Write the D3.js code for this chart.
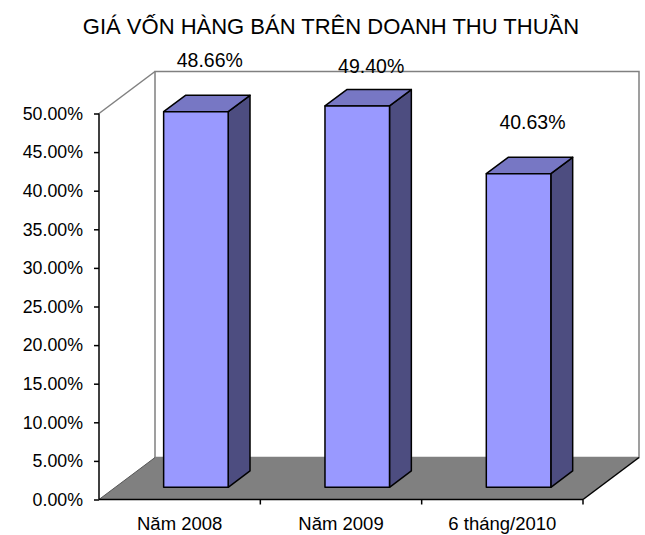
<!DOCTYPE html>
<html>
<head>
<meta charset="utf-8">
<script src="https://cdn.jsdelivr.net/npm/d3@7"></script>
<style>
  body { margin: 0; background: #fff; overflow: hidden; }
  svg text { font-family: "Liberation Sans", Arial, sans-serif; fill: #000; }
</style>
</head>
<body>
<div id="chart"></div>
<script>
// chart data
var categories = ["Năm 2008", "Năm 2009", "6 tháng/2010"];
var values = [0.4866, 0.4940, 0.4063];
var yTicks = [0, 0.05, 0.10, 0.15, 0.20, 0.25, 0.30, 0.35, 0.40, 0.45, 0.50];
var title = "GIÁ VỐN HÀNG BÁN TRÊN DOANH THU THUẦN";

var svgWidth = 645;
var svgHeight = 535;

// front plane of the 3D box
var plot = { left: 99, right: 583, top: 113.5, bottom: 499.5 };
// depth offset of the back wall
var DX = 56, DY = 42;
// bar depth (fraction of full depth)
var barFront = 0.29, barBack = 0.68;

var svg = d3.select("#chart")
  .append("svg")
  .attr("width", svgWidth)
  .attr("height", svgHeight)
  .style("display", "block");

var xBand = d3.scaleBand()
  .domain(categories)
  .range([plot.left, plot.right])
  .padding(0);

var yScale = d3.scaleLinear()
  .domain([0, 0.5])
  .range([plot.bottom, plot.top]);

function proj(x, y, f) {
  return [x + f * DX, y - f * DY];
}
function poly(pts) {
  return pts.map(p => p.join(",")).join(" ");
}

// back wall
svg.append("polygon")
  .attr("points", poly([
    proj(plot.left, plot.top, 1), proj(plot.right, plot.top, 1),
    proj(plot.right, plot.bottom, 1), proj(plot.left, plot.bottom, 1)
  ]))
  .attr("fill", "#fff")
  .attr("stroke", "#808080")
  .attr("stroke-width", 1.5);

// side wall top edge
svg.append("line")
  .attr("x1", plot.left).attr("y1", plot.top)
  .attr("x2", proj(plot.left, plot.top, 1)[0]).attr("y2", proj(plot.left, plot.top, 1)[1])
  .attr("stroke", "#808080")
  .attr("stroke-width", 1.5);

// floor
svg.append("polygon")
  .attr("points", poly([
    [plot.left, plot.bottom], [plot.right, plot.bottom],
    proj(plot.right, plot.bottom, 1), proj(plot.left, plot.bottom, 1)
  ]))
  .attr("fill", "#808080")
  .attr("stroke", "none");

// floor edges
svg.append("line")
  .attr("x1", plot.right).attr("y1", plot.bottom)
  .attr("x2", proj(plot.right, plot.bottom, 1)[0]).attr("y2", proj(plot.right, plot.bottom, 1)[1])
  .attr("stroke", "#000")
  .attr("stroke-width", 1.5);
svg.append("line")
  .attr("x1", plot.left).attr("y1", plot.bottom)
  .attr("x2", proj(plot.left, plot.bottom, 1)[0]).attr("y2", proj(plot.left, plot.bottom, 1)[1])
  .attr("stroke", "#555")
  .attr("stroke-width", 1);

// bars
var barWidth = xBand.bandwidth() * 0.4;
var bars = svg.selectAll(".bar")
  .data(values)
  .enter()
  .append("g")
  .attr("class", "bar");

bars.each(function(d, i) {
  var g = d3.select(this);
  var x0 = xBand(categories[i]) + xBand.bandwidth() / 2 - barWidth / 2;
  var x1 = x0 + barWidth;
  var yT = yScale(d);
  var yB = yScale(0);

  var fTL = proj(x0, yT, barFront), fTR = proj(x1, yT, barFront);
  var fBL = proj(x0, yB, barFront), fBR = proj(x1, yB, barFront);
  var bTL = proj(x0, yT, barBack), bTR = proj(x1, yT, barBack);
  var bBR = proj(x1, yB, barBack);

  // side face
  g.append("polygon")
    .attr("points", poly([fTR, bTR, bBR, fBR]))
    .attr("fill", "#4d4d80")
    .attr("stroke", "#000")
    .attr("stroke-width", 1.5)
    .attr("stroke-linejoin", "round");
  // top face
  g.append("polygon")
    .attr("points", poly([fTL, bTL, bTR, fTR]))
    .attr("fill", "#7777c4")
    .attr("stroke", "#000")
    .attr("stroke-width", 1.5)
    .attr("stroke-linejoin", "round");
  // front face
  g.append("polygon")
    .attr("points", poly([fTL, fTR, fBR, fBL]))
    .attr("fill", "#9999ff")
    .attr("stroke", "#000")
    .attr("stroke-width", 1.5)
    .attr("stroke-linejoin", "round");
});

// y axis
var leftAxis = d3.axisLeft(yScale)
  .tickValues(yTicks)
  .tickFormat(d3.format(".2%"))
  .tickSize(5)
  .tickPadding(11);

var yAxis = svg.append("g")
  .attr("transform", `translate(${plot.left}, 0)`)
  .call(leftAxis)
  .attr("font-size", null)
  .attr("font-family", null);
yAxis.select(".domain").attr("stroke", "#000").attr("stroke-width", 1.5)
  .attr("d", `M0,${plot.top}V${plot.bottom}`);
yAxis.selectAll(".tick line").attr("stroke", "#000").attr("stroke-width", 1.5);
yAxis.selectAll(".tick text")
  .style("font-size", "17.8px");

// x axis
var bottomAxis = d3.axisBottom(xBand)
  .tickSize(0)
  .tickPadding(17);

var xAxis = svg.append("g")
  .attr("transform", `translate(0, ${plot.bottom})`)
  .call(bottomAxis)
  .attr("font-size", null)
  .attr("font-family", null);
xAxis.select(".domain").attr("stroke", "#000").attr("stroke-width", 1.5)
  .attr("d", `M${plot.left},0H${plot.right}`);
xAxis.selectAll(".tick text")
  .style("font-size", "18.5px");

// category separator ticks
xAxis.selectAll(".sep")
  .data(categories)
  .enter()
  .append("line")
  .attr("class", "sep")
  .attr("x1", d => xBand(d) + xBand.bandwidth())
  .attr("x2", d => xBand(d) + xBand.bandwidth())
  .attr("y1", 0)
  .attr("y2", 5)
  .attr("stroke", "#000")
  .attr("stroke-width", 1.5);

// data labels (middle one nudged down like the original)
var labelNudge = [0, 11, 0];
svg.selectAll(".label")
  .data(values)
  .enter()
  .append("text")
  .attr("class", "label")
  .attr("x", (d, i) => xBand(categories[i]) + xBand.bandwidth() / 2 + (barFront + barBack) / 2 * DX + 3)
  .attr("y", (d, i) => yScale(d) - (barFront + barBack) / 2 * DY - 36 + labelNudge[i])
  .attr("text-anchor", "middle")
  .style("font-size", "19.5px")
  .text(d => d3.format(".2%")(d));

// title
svg.append("text")
  .attr("x", 331)
  .attr("y", 34)
  .attr("text-anchor", "middle")
  .style("font-size", "22px")
  .text(title);
</script>
</body>
</html>
